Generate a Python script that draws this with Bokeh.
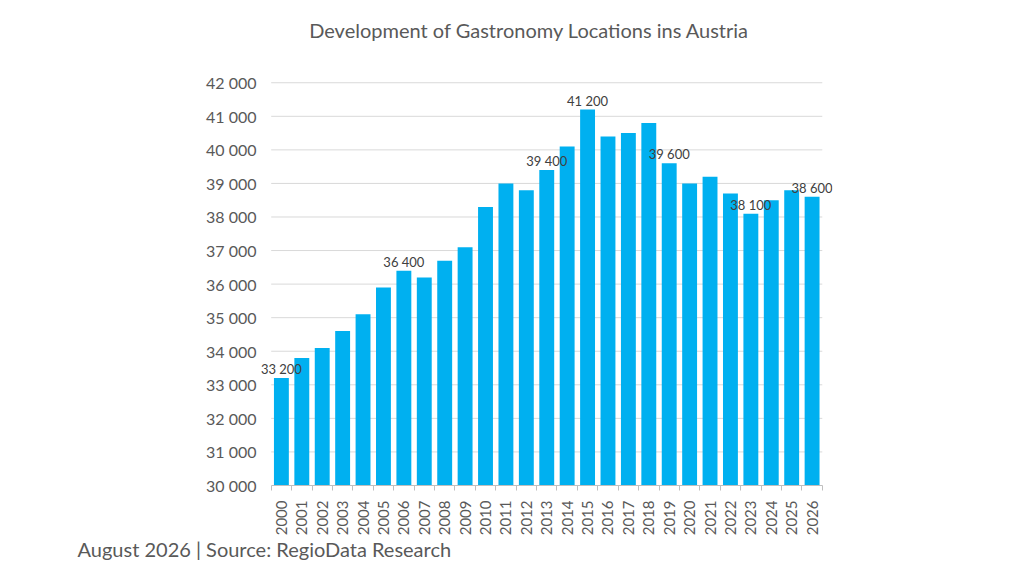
from bokeh.plotting import figure
from bokeh.models import ColumnDataSource, FixedTicker, Range1d, LabelSet, Label, Title
from bokeh.core.properties import value
from bokeh.embed import file_html
from bokeh.resources import INLINE
import math

# ---- data ----
years = [str(y) for y in range(2000, 2027)]
locations = [33200, 33800, 34100, 34600, 35100, 35900, 36400, 36200, 36700,
             37100, 38300, 39000, 38800, 39400, 40100, 41200, 40400, 40500,
             40800, 39600, 39000, 39200, 38700, 38100, 38500, 38800, 38600]
labelled_years = ["2000", "2006", "2013", "2015", "2019", "2023", "2026"]
y_ticks = list(range(30000, 42001, 1000))
title_text = "Development of Gastronomy Locations ins Austria"
footer_text = "August 2026  |  Source: RegioData Research"

FONT = "Lato"
GRAY = "#595959"
BLUE = "#00B0F0"

def fmt(v):
    return f"{v:,}".replace(",", " ")

n = len(years)
xs = list(range(n))
src = ColumnDataSource(dict(x=xs, top=locations, year=years))

# frame reaches up to the title area so the title can sit inside it
y_top = 44242
p = figure(frame_width=574, frame_height=478, output_backend="svg",
           toolbar_location=None,
           x_range=Range1d(-1.122, n - 0.5 + 0.5), y_range=Range1d(30000, y_top),
           min_border_left=258, min_border_right=176, min_border_top=7,
           min_border_bottom=90)
p.outline_line_color = None
p.background_fill_color = "white"
p.border_fill_color = "white"

# horizontal grid lines limited to the category span
p.segment(x0=-0.5, x1=n - 0.5, y0=y_ticks[1:], y1=y_ticks[1:],
          line_color="#D9D9D9", line_width=1)

p.vbar(x="x", top="top", bottom=30000, width=0.73, source=src,
       fill_color=BLUE, line_color=None)

# data labels
lx, ly, lt = [], [], []
for i, yr in enumerate(years):
    if yr in labelled_years:
        lx.append(i); ly.append(locations[i]); lt.append(fmt(locations[i]))
lsrc = ColumnDataSource(dict(x=lx, y=ly, t=lt))
p.add_layout(LabelSet(x="x", y="y", text="t", source=lsrc, text_align="center",
                      text_baseline="bottom", y_offset=1, text_font=value(FONT),
                      text_font_size=value("13px"), text_color=value("#404040")))

# x axis
xa = p.xaxis[0]
xa.bounds = (-0.5, n - 0.5)
xa.ticker = FixedTicker(ticks=xs, minor_ticks=[i - 0.5 for i in range(n + 1)])
xa.major_label_overrides = {i: y for i, y in enumerate(years)}
xa.major_label_orientation = math.pi / 2
xa.major_tick_out = 0
xa.major_tick_in = 0
xa.minor_tick_out = 5
xa.minor_tick_in = 0
xa.minor_tick_line_color = "#BFBFBF"
xa.axis_line_color = "#BFBFBF"
xa.major_label_standoff = 10
xa.major_label_text_font = FONT
xa.major_label_text_font_size = "15px"
xa.major_label_text_color = GRAY

# y axis
ya = p.yaxis[0]
ya.ticker = FixedTicker(ticks=y_ticks)
ya.major_label_overrides = {v: fmt(v) for v in y_ticks}
ya.axis_line_color = None
ya.major_tick_line_color = None
ya.minor_tick_line_color = None
ya.major_tick_out = 0
ya.major_tick_in = 0
ya.major_label_standoff = 2
ya.major_label_text_font = FONT
ya.major_label_text_font_size = "16px"
ya.major_label_text_color = GRAY

p.xgrid.grid_line_color = None
p.ygrid.grid_line_color = None

# title (inside the extended frame) & footer
p.add_layout(Label(x=12.15, y=43557, text=title_text, text_align="center",
                   text_baseline="middle", text_font=FONT, text_font_size="20px",
                   text_color=GRAY))
p.add_layout(Title(text=footer_text, align="left", offset=-181, standoff=-8,
                   text_font=FONT, text_font_size="20px", text_font_style="normal",
                   text_color=GRAY), "below")

open("out.html", "w").write(file_html(p, INLINE))
